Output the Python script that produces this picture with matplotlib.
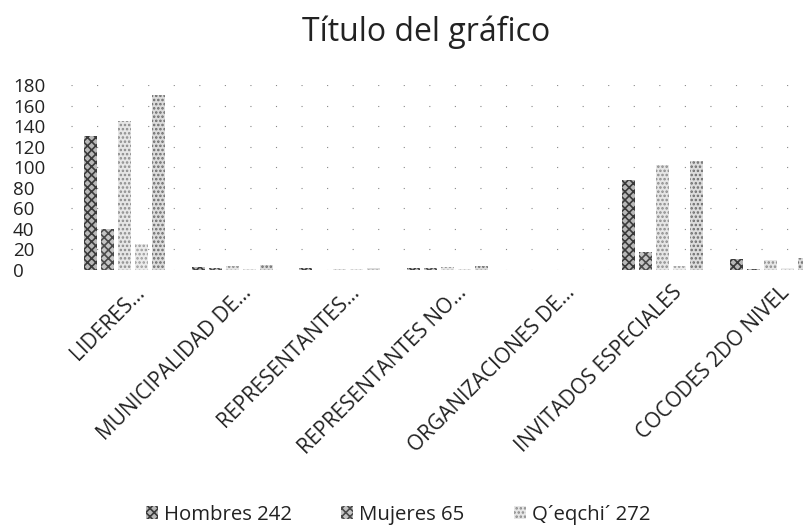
import matplotlib
matplotlib.use("Agg")
import matplotlib.pyplot as plt
import matplotlib.transforms as mtransforms
import numpy as np

plt.rcParams['font.family'] = ['Open Sans', 'DejaVu Sans']
plt.rcParams['hatch.linewidth'] = 1.2

categories = ["LIDERES…", "MUNICIPALIDAD DE…", "REPRESENTANTES…", "REPRESENTANTES NO…",
              "ORGANIZACIONES DE…", "INVITADOS ESPECIALES", "COCODES 2DO NIVEL"]
hombres = [130, 3, 2, 2, 0, 88, 11]
mujeres = [40, 2, 0, 2, 0, 18, 1]
qeqchi = [145, 4, 1, 3, 0, 102, 10]
ladino = [25, 1, 1, 1, 0, 4, 2]
total = [170, 5, 2, 4, 0, 106, 12]
series_names = ["Hombres 242", "Mujeres 65", "Q´eqchi´ 272", "_Ladino", "_Total"]
yticks = [0, 20, 40, 60, 80, 100, 120, 140, 160, 180]

series = [hombres, mujeres, qeqchi, ladino, total]
faces = ['#b8b8b8', '#c4c4c4', '#e6e6e6', '#ececec', '#dcdcdc']
hatch_cols = ['#3a3a3a', '#4a4a4a', '#8a8a8a', '#9a9a9a', '#6a6a6a']
hatches = ['xxxx', 'xxxx', '....', '....', '....']

W, H = 804, 530
fig = plt.figure(figsize=(W / 100, H / 100), dpi=100)
ax = fig.add_axes([71 / W, 1 - 270 / H, (824 - 71) / W, 185 / H])

x = np.arange(len(categories))
bw = 0.121
step = 0.158
for i, (vals, name) in enumerate(zip(series, series_names)):
    ax.bar(x + (i - 2) * step, vals, width=bw, facecolor=faces[i],
           edgecolor=hatch_cols[i], hatch=hatches[i], linewidth=0, label=name)

ax.set_xlim(-0.5, len(categories) - 0.5)
ax.set_ylim(0, 180)
ax.set_yticks(yticks)
ax.set_yticklabels([str(v) for v in yticks], fontsize=13.5, color='#222222')
ax.tick_params(axis='y', length=0, pad=8)
for lab in ax.get_yticklabels():
    lab.set_ha('left')
    lab.set_transform(lab.get_transform() + mtransforms.ScaledTranslation(-0.47, 0, fig.dpi_scale_trans))

ax.yaxis.grid(True, color='#888888', linestyle=(0, (1, 22)), linewidth=0.8)
ax.set_axisbelow(True)
for s in ax.spines.values():
    s.set_visible(False)

ax.set_xticks(x)
ax.set_xticklabels(categories, fontsize=15, rotation=45, ha='right', va='top',
                   rotation_mode='anchor', color='#222222')
ax.tick_params(axis='x', length=0, pad=0)
off = mtransforms.ScaledTranslation(0.09, -0.12, fig.dpi_scale_trans)
for lab in ax.get_xticklabels():
    lab.set_transform(lab.get_transform() + off)

fig.text(426 / W, 1 - 32 / H, "Título del gráfico", fontsize=23, ha='center', va='center',
         color='#222222')

leg = fig.legend(loc='center', bbox_to_anchor=(398 / W, 1 - 515 / H), ncol=3, frameon=False,
                 fontsize=14.7, handlelength=0.6, handleheight=0.6, handletextpad=0.3,
                 columnspacing=2.4)
for t in leg.get_texts():
    t.set_color('#222222')

fig.savefig("out.png", dpi=100)
